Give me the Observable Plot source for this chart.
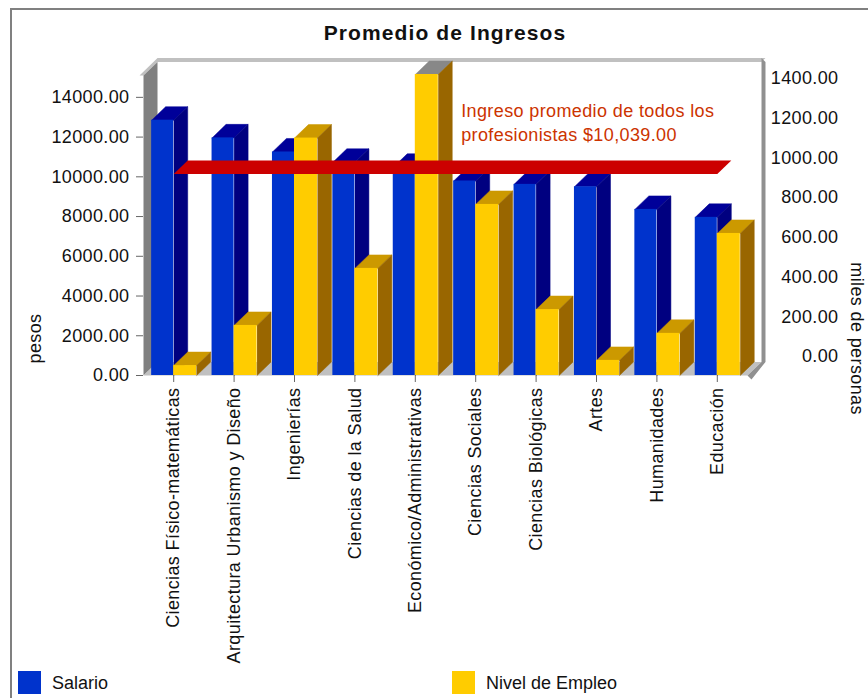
<!DOCTYPE html>
<html>
<head>
<meta charset="utf-8">
<script src="https://cdn.jsdelivr.net/npm/d3@7"></script>
<script src="https://cdn.jsdelivr.net/npm/@observablehq/plot@0.6"></script>
<style>
html,body{margin:0;padding:0;background:#fff;}
#wrap{position:relative;width:868px;height:698px;overflow:hidden;font-family:"Liberation Sans",Arial,sans-serif;color:#111;}
#border{position:absolute;left:10px;top:8px;right:-10px;bottom:-10px;border:2px solid #808080;}
#title{position:absolute;left:0;top:20px;width:890px;text-align:center;font-weight:bold;font-size:21px;letter-spacing:1.1px;line-height:26px;}
#chart{position:absolute;left:0;top:0;}
.leg{position:absolute;top:671px;height:23px;line-height:25px;font-size:18px;}
.leg i{position:absolute;left:0;top:0;width:23px;height:23px;}
.leg span{position:absolute;left:34px;white-space:nowrap;}
svg text{letter-spacing:.38px;}
</style>
</head>
<body>
<div id="wrap">
  <div id="border"></div>
  <div id="chart"></div>
  <div id="title">Promedio de Ingresos</div>
  <div class="leg" style="left:18px"><i id="k0"></i><span id="t0"></span></div>
  <div class="leg" style="left:452px"><i id="k1"></i><span id="t1"></span></div>
</div>
<script>
const categories = ["Ciencias Físico-matemáticas","Arquitectura Urbanismo y Diseño","Ingenierías","Ciencias de la Salud","Económico/Administrativas","Ciencias Sociales","Ciencias Biológicas","Artes","Humanidades","Educación"];
const salario = [12850,11960,11250,10730,10480,9790,9620,9500,8360,7960];
const empleo = [50,252,1195,539,1515,861,332,76,212,715];
const promedio = 10039;
const leftTicks = [0,2000,4000,6000,8000,10000,12000,14000];
const rightTicks = [0,200,400,600,800,1000,1200,1400];
const seriesNames = ["Salario","Nivel de Empleo"];
const nota = "Ingreso promedio de todos los\nprofesionistas $10,039.00";
const blue = {front:"#0033CC",top:"#000099",side:"#000080"};
const yellow = {front:"#FFCC00",top:"#CC9900",side:"#996600",over:"#888888"};

// 3D look: depth of the extrusion, in data units of each scale
const dX = 0.232, dY = 680;
const xMin = -0.5, xMax = 9.5, yMax = 15100;
const blueW = 0.365, yellowW = 0.38;
const empleoY = v => v * 10;

function faces(values, x0, w, key, colors, overMax) {
  const out = [];
  values.forEach((v, i) => {
    const a = i + x0, b = a + w;
    const top = overMax && v > overMax ? colors.over : colors.top;
    out.push({k:key+"t"+i, c:top, x:a, y:v});
    out.push({k:key+"t"+i, c:top, x:a+dX, y:v+dY});
    out.push({k:key+"t"+i, c:top, x:b+dX, y:v+dY});
    out.push({k:key+"t"+i, c:top, x:b, y:v});
    out.push({k:key+"s"+i, c:colors.side, x:b, y:v});
    out.push({k:key+"s"+i, c:colors.side, x:b+dX, y:v+dY});
    out.push({k:key+"s"+i, c:colors.side, x:b+dX, y:dY});
    out.push({k:key+"s"+i, c:colors.side, x:b, y:0});
  });
  return out;
}
const poly = (data, fill) => Plot.line(data, {x:"x", y:"y", z:"z", fill, stroke:null, curve:"linear"});
const P = (pts, z) => pts.map(([x,y]) => ({x,y,z}));

const thick = 0.066, bevel = 200;
const leftWall = P([[xMin,0],[xMin+dX,dY],[xMin+dX,yMax+dY],[xMin,yMax]],"l");
const bevelTop = P([[xMin-thick,yMax],[xMin+dX,yMax+dY+bevel],[xMax+dX+thick,yMax+dY+bevel],[xMax+dX,yMax+dY],[xMin+dX,yMax+dY],[xMin,yMax]],"b");
const floor = P([[xMin,0],[xMin+dX,dY],[xMax+dX,dY],[xMax,0]],"f");
const rightWall = P([[xMax+dX,yMax+dY+bevel],[xMax+dX+thick,yMax+dY],[xMax+dX+thick,dY],[xMax+thick,-bevel],[xMax,0],[xMax+dX,dY]],"r");
const band = P([[0,promedio],[dX,promedio+dY],[9+dX,promedio+dY],[9,promedio]],"p");

const yellowValues = empleo.map(empleoY);
const blueFaces = faces(salario, -blueW, blueW, "b", blue);
const yellowFaces = faces(yellowValues, 0, yellowW, "y", yellow, 15000);
const polys = (rows) => Plot.line(rows, {x:"x", y:"y", z:"k", fill:"c", stroke:"c", strokeWidth:0.5, curve:"linear"});
const fs = 18;

const plot = Plot.plot({
  width: 868, height: 665,
  marginLeft: 143, marginRight: 121, marginTop: 75, marginBottom: 290,
  style: {fontFamily:'"Liberation Sans",Arial,sans-serif', fontSize: fs+"px", color:"#111", background:"transparent", overflow:"visible"},
  x: {type:"linear", domain:[xMin,xMax]},
  y: {type:"linear", domain:[0,yMax]},
  marks: [
    poly(bevelTop, "#C0C0C0"),
    poly(leftWall, "#808080"),
    poly(floor, "#C0C0C0"),
    poly(rightWall, "#909090"),
    polys(blueFaces),
    Plot.rect(salario, {x1:(d,i)=>i-blueW, x2:(d,i)=>i, y1:0, y2:d=>d, fill:blue.front}),
    polys(yellowFaces),
    Plot.rect(yellowValues, {x1:(d,i)=>i, x2:(d,i)=>i+yellowW, y1:0, y2:d=>d, fill:yellow.front}),
    Plot.line(band, {x:"x", y:"y", z:"z", fill:"#CC0000", stroke:null, curve:"linear", dy:-2}),
    Plot.text([nota], {x:4.76, y:12780, text:d=>d, textAnchor:"start", lineHeight:24/fs, fill:"#CC3300", fontSize:fs}),
    Plot.axisY({ticks:leftTicks, tickFormat:d=>d.toFixed(2), label:null, tickSize:7, tickPadding:7, fontSize:fs, stroke:"#666"}),
    Plot.axisY({anchor:"right", ticks:rightTicks.map(empleoY), tickFormat:d=>(d/10).toFixed(2), label:null, tickSize:0, tickPadding:91, textAnchor:"end", dy:-19, fontSize:fs}),
    Plot.axisX({ticks:categories.map((c,i)=>i), tickFormat:i=>categories[i], tickRotate:-90, label:null, tickSize:7, tickPadding:5, lineWidth:Infinity, textOverflow:null, fontSize:fs, stroke:"#666"}),
    Plot.text(["pesos"], {frameAnchor:"left", y:1860, text:d=>d, rotate:-90, dx:-108, textAnchor:"middle", fontSize:fs}),
    Plot.text(["miles de personas"], {frameAnchor:"right", y:1860, text:d=>d, rotate:90, dx:109, textAnchor:"middle", fontSize:fs})
  ]
});
document.getElementById("chart").append(plot);
document.getElementById("k0").style.background = blue.front;
document.getElementById("k1").style.background = yellow.front;
document.getElementById("t0").textContent = seriesNames[0];
document.getElementById("t1").textContent = seriesNames[1];
</script>
</body>
</html>
